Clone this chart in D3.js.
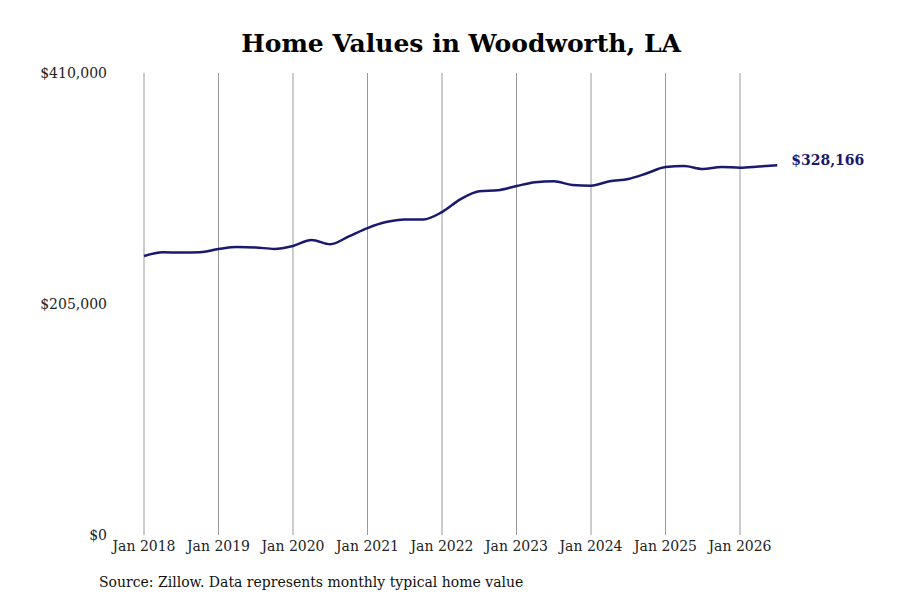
<!DOCTYPE html>
<html><head><meta charset="utf-8">
<script src="https://cdn.jsdelivr.net/npm/d3@7"></script>
<style>body{margin:0;background:#fff}svg{font-family:"DejaVu Serif",serif}</style>
</head><body><svg id="c" width="900" height="600"></svg>
<script>
const dates = [2018,2018.25,2018.5,2018.75,2019,2019.25,2019.5,2019.75,2020,2020.25,2020.5,2020.75,2021,2021.25,2021.5,2021.75,2022,2022.25,2022.5,2022.75,2023,2023.25,2023.5,2023.75,2024,2024.25,2024.5,2024.75,2025,2025.25,2025.5,2025.75,2026,2026.25,2026.5];
const values = [247600,251000,250600,251000,253800,255600,255200,253900,256500,261800,258000,265000,272400,277700,280000,280000,286600,298000,305000,306000,309700,313000,314000,310600,310000,314000,316000,321000,326600,327500,324800,326500,326000,327000,328166];
const yTicks = [0,205000,410000];
const xTickYears = [2018,2019,2020,2021,2022,2023,2024,2025,2026];
const title = "Home Values in Woodworth, LA";
const source = "Source: Zillow. Data represents monthly typical home value";

const svg = d3.select("#c");
const x = d3.scaleLinear().domain([2018,2026]).range([144,740]);
const y = d3.scaleLinear().domain([0,410000]).range([535,73]);
const color = "#191970";

svg.append("text").attr("x",461).attr("y",52).attr("text-anchor","middle")
  .attr("font-size",25).attr("font-weight","bold").text(title);

svg.append("g").selectAll("line").data(xTickYears).join("line")
  .attr("x1",d=>x(d)).attr("x2",d=>x(d)).attr("y1",73).attr("y2",535)
  .attr("stroke","#999").attr("stroke-width",1);

svg.append("g").selectAll("text").data(xTickYears).join("text")
  .attr("x",d=>x(d)).attr("y",551).attr("text-anchor","middle").attr("font-size",14)
  .attr("fill","#222").text(d=>"Jan "+d);

svg.append("g").selectAll("text").data(yTicks).join("text")
  .attr("x",107).attr("y",d=>y(d)+5).attr("text-anchor","end").attr("font-size",14)
  .attr("fill","#222").text(d=>"$"+d3.format(",")(d));

const line = d3.line().x((d,i)=>x(dates[i])).y(d=>y(d)).curve(d3.curveMonotoneX);
svg.append("path").attr("d",line(values)).attr("fill","none").attr("stroke",color).attr("stroke-width",2.5);

svg.append("text").attr("x",x(dates[dates.length-1])+14).attr("y",y(values[values.length-1])+0)
  .attr("font-size",14).attr("font-weight","bold").attr("fill",color)
  .text("$"+d3.format(",")(values[values.length-1]));

svg.append("text").attr("x",99).attr("y",587).attr("font-size",14).attr("fill","#111").text(source);
</script></body></html>
